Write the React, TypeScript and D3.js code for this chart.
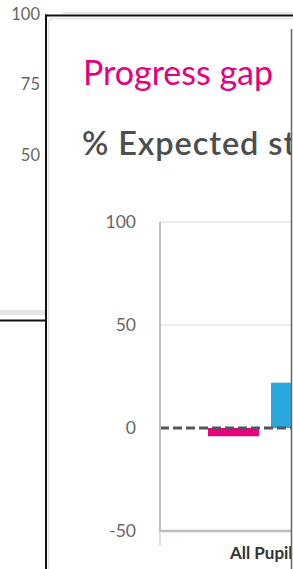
import React from "react";
import * as d3 from "d3";

const bgTicks = [100, 75, 50];
const categories = ["All Pupils"];
const seriesNames = ["Disadvantaged", "Other"];
const seriesValues = [-4, 22];
const seriesColors = ["#e6007e", "#29a8df"];
const yTicks = [100, 50, 0, -50];

const W = 293;
const H = 569;
const FONT = "Lato, 'Open Sans', sans-serif";

export default function App() {
  const bgY = d3.scaleLinear().domain([50, 100]).range([155, 14]);
  const y = d3.scaleLinear().domain([-50, 100]).range([531, 222]);
  const x0 = d3.scaleBand<string>().domain(categories).range([160, 370]).paddingInner(0).paddingOuter(0);
  const x1 = d3.scaleBand<string>().domain(seriesNames).range([0, x0.bandwidth()]).paddingInner(0.19).paddingOuter(0.762);
  const plotLeft = 160;
  const plotRight = 370;

  return (
    <div style={{ position: "fixed", left: 0, top: 0, width: W, height: H, background: "#fff" }}>
      <svg width={W} height={H} style={{ display: "block", fontFamily: FONT }}>
        <defs>
          <clipPath id="clipR">
            <rect x={0} y={0} width={291} height={H} />
          </clipPath>
        </defs>
        {/* background chart labels */}
        {bgTicks.map((t) => (
          <text key={t} x={40} y={bgY(t)} dy="0.35em" textAnchor="end" fontSize={16.5} fill="#666">
            {t}
          </text>
        ))}
        <rect x={0} y={310} width={45} height={5} fill="#e4e4e4" />
        <rect x={0} y={319.5} width={47} height={2} fill="#111" />
        {/* modal frame */}
        <line x1={63} x2={W} y1={13} y2={13} stroke="#d0d0d0" strokeWidth={1} />
        <rect x={45} y={14.5} width={W} height={2} fill="#111" />
        <rect x={45} y={14.5} width={2} height={H} fill="#111" />
        <rect x={48.5} y={18.5} width={W} height={H} rx={4} fill="#fff" stroke="#e2e2e2" strokeWidth={1.5} />

        <g clipPath="url(#clipR)">
          <text x={83} y={85} fontSize={34} fill="#e6007e" fontWeight={400}>
            Progress gap
          </text>
          <text x={82} y={155} fontSize={32.5} fill="#4d4d4d" fontWeight={600} letterSpacing={0.9}>
            % Expected standard
          </text>

          {/* grid */}
          {yTicks.filter((t) => t > 0).map((t) => (
            <line key={t} x1={plotLeft} x2={W} y1={y(t)} y2={y(t)} stroke="#e6e6e6" strokeWidth={1.5} />
          ))}
          {/* bars */}
          {categories.map((c) => (
            <g key={c} transform={`translate(${x0(c)},0)`}>
              {seriesNames.map((s, i) => {
                const v = seriesValues[i];
                return (
                  <rect
                    key={s}
                    x={x1(s)}
                    width={x1.bandwidth()}
                    y={y(Math.max(0, v))}
                    height={Math.abs(y(v) - y(0))}
                    fill={seriesColors[i]}
                  />
                );
              })}
            </g>
          ))}
          {/* zero dashed line */}
          <line x1={plotLeft} x2={W} y1={y(0)} y2={y(0)} stroke="#555" strokeWidth={3} strokeDasharray="9,4" />
          {/* axes */}
          <line x1={plotLeft} x2={plotLeft} y1={y(100)} y2={y(-50)} stroke="#bdbdbd" strokeWidth={2} />
          <line x1={plotLeft - 1} x2={plotRight} y1={y(-50)} y2={y(-50)} stroke="#bdbdbd" strokeWidth={2.5} />
          {[plotLeft, plotRight].map((tx) => (
            <line key={tx} x1={tx} x2={tx} y1={y(-50) + 1} y2={y(-50) + 15} stroke="#ccd6eb" strokeWidth={1.5} />
          ))}
          {yTicks.map((t) => (
            <text key={t} x={136} y={y(t)} dy="0.35em" textAnchor="end" fontSize={17.5} fill="#666">
              {t}
            </text>
          ))}
          {categories.map((c) => (
            <text key={c} x={(x0(c) ?? 0) + x0.bandwidth() / 2} y={559} textAnchor="middle" fontSize={17} fontWeight={700} fill="#333">
              {c}
            </text>
          ))}
        </g>
        <line x1={291.5} x2={291.5} y1={29} y2={H} stroke="#666" strokeWidth={1.5} />
      </svg>
    </div>
  );
}
